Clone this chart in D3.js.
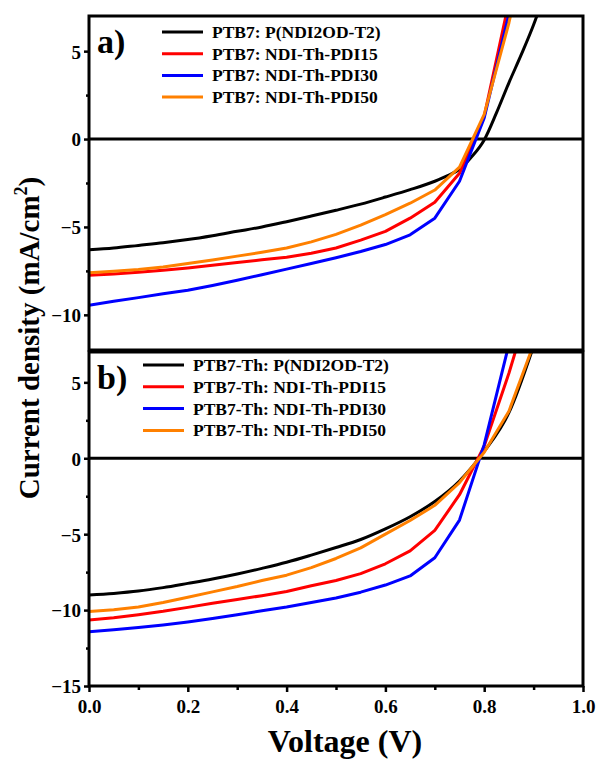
<!DOCTYPE html>
<html><head><meta charset="utf-8">
<script src="https://cdn.jsdelivr.net/npm/d3@7"></script>
<style>
html,body{margin:0;padding:0;background:#fff;}
svg text{font-family:"Liberation Serif","Times New Roman",serif;font-weight:bold;}
</style></head>
<body><svg id="chart" width="597" height="759"></svg>
<script>
// ---------- data ----------
const voltages = [0,0.05,0.1,0.15,0.2,0.25,0.3,0.35,0.4,0.45,0.5,0.55,0.6,0.65,0.7,0.75,0.8,0.85,0.9];
const blackTopV = [0,0.05,0.1,0.15,0.2,0.25,0.3,0.35,0.4,0.45,0.5,0.55,0.6,0.65,0.7,0.725,0.75,0.775,0.8,0.825,0.85,0.875,0.9,0.925];
const blackTopJ = [-6.3,-6.2,-6.05,-5.9,-5.72,-5.5,-5.25,-5.0,-4.7,-4.38,-4.05,-3.7,-3.3,-2.88,-2.4,-2.1,-1.72,-1.0,-0.05,1.5,3.2,4.8,6.5,8.5];
const redTopJ    = [-7.75,-7.68,-7.58,-7.47,-7.33,-7.18,-7.02,-6.87,-6.72,-6.5,-6.2,-5.75,-5.25,-4.5,-3.6,-1.95,1.3,7.8,14];
const blueTopJ   = [-9.45,-9.23,-9.02,-8.8,-8.6,-8.33,-8.03,-7.72,-7.4,-7.08,-6.75,-6.4,-6.0,-5.45,-4.5,-2.4,1.2,7.1,13];
const orangeTopJ = [-7.6,-7.52,-7.42,-7.28,-7.08,-6.88,-6.66,-6.44,-6.2,-5.85,-5.42,-4.9,-4.3,-3.65,-2.9,-1.6,1.4,6.6,13];

const blackBotJ  = [-9.0,-8.9,-8.75,-8.52,-8.24,-7.95,-7.62,-7.25,-6.85,-6.38,-5.88,-5.35,-4.65,-3.85,-2.85,-1.5,0.45,3.0,7.4];
const redBotJ    = [-10.65,-10.5,-10.3,-10.08,-9.82,-9.55,-9.3,-9.05,-8.78,-8.4,-8.05,-7.6,-6.95,-6.1,-4.75,-2.4,0.8,5.6,11];
const blueBotJ   = [-11.42,-11.3,-11.15,-10.98,-10.78,-10.55,-10.3,-10.05,-9.8,-9.5,-9.2,-8.82,-8.35,-7.75,-6.55,-4.07,0.9,7.5,14];
const orangeBotJ = [-10.1,-9.98,-9.8,-9.5,-9.16,-8.8,-8.45,-8.05,-7.7,-7.2,-6.6,-5.9,-5.0,-4.1,-3.1,-1.6,0.4,3.1,7.5];

const topLabels = ["PTB7: P(NDI2OD-T2)","PTB7: NDI-Th-PDI15","PTB7: NDI-Th-PDI30","PTB7: NDI-Th-PDI50"];
const botLabels = ["PTB7-Th: P(NDI2OD-T2)","PTB7-Th: NDI-Th-PDI15","PTB7-Th: NDI-Th-PDI30","PTB7-Th: NDI-Th-PDI50"];
const colors = ["#000000","#ff0000","#0000ff","#ff8000"];
const xTicks = [0,0.2,0.4,0.6,0.8,1.0];
const xMinor = [0.1,0.3,0.5,0.7,0.9];
const topYTicks = [-10,-5,0,5];
const topYMinor = [-7.5,-2.5,2.5];
const botYTicks = [-15,-10,-5,0,5];
const botYMinor = [-12.5,-7.5,-2.5,2.5];

// ---------- layout ----------
const svg = d3.select("#chart");
const L = 89, R = 583;
const x = d3.scaleLinear().domain([0,1]).range([L,R]);
const yTop = d3.scaleLinear().domain([-12,7]).range([350,16]);
const yBot = d3.scaleLinear().domain([-15,7]).range([686,352]);

function panel(id, y, series, labels, yTicks, yMinor, tag, legend, showX){
  const g = svg.append("g");
  const [y0,y1] = y.range();
  g.append("clipPath").attr("id",id).append("rect")
    .attr("x",L).attr("y",y1).attr("width",R-L).attr("height",y0-y1);
  // zero line
  g.append("line").attr("x1",L).attr("x2",R).attr("y1",y(0)).attr("y2",y(0))
    .attr("stroke","#000").attr("stroke-width",3);
  // curves
  const cg = g.append("g").attr("clip-path",`url(#${id})`);
  series.forEach((s,i)=>{
    const pts = s.v.map((v,k)=>[v,s.j[k]]);
    const line = d3.line().x(d=>x(d[0])).y(d=>y(d[1]))
      .curve(s.smooth ? d3.curveMonotoneX : d3.curveLinear);
    cg.append("path").attr("d",line(pts)).attr("fill","none")
      .attr("stroke",colors[i]).attr("stroke-width",3).attr("stroke-linejoin","round");
  });
  // y axis
  const ya = d3.axisLeft(y).tickValues(yTicks).tickSize(5).tickPadding(3).tickFormat(d3.format("d"));
  const yag = g.append("g").attr("transform",`translate(${L},0)`).call(ya);
  yag.select(".domain").remove();
  yag.selectAll(".tick line").attr("stroke-width",2.5);
  yag.selectAll("text").attr("font-size",19).attr("fill","#000").attr("dy","0.36em");
  const ym = d3.axisLeft(y).tickValues(yMinor).tickSize(3).tickFormat("");
  const ymg = g.append("g").attr("transform",`translate(${L},0)`).call(ym);
  ymg.select(".domain").remove();
  ymg.selectAll(".tick line").attr("stroke-width",2.5);
  if(showX){
    const xa = d3.axisBottom(x).tickValues(xTicks).tickSize(6).tickPadding(8).tickFormat(d3.format(".1f"));
    const xag = g.append("g").attr("transform",`translate(0,${y0})`).call(xa);
    xag.select(".domain").remove();
    xag.selectAll(".tick line").attr("stroke-width",2.5);
    xag.selectAll("text").attr("font-size",19).attr("fill","#000");
    const xm = d3.axisBottom(x).tickValues(xMinor).tickSize(4).tickFormat("");
    const xmg = g.append("g").attr("transform",`translate(0,${y0})`).call(xm);
    xmg.select(".domain").remove();
    xmg.selectAll(".tick line").attr("stroke-width",2.5);
  }
  // frame
  g.append("rect").attr("x",L).attr("y",y1).attr("width",R-L).attr("height",y0-y1)
    .attr("fill","none").attr("stroke","#000").attr("stroke-width",3);
  // panel tag
  g.append("text").attr("x",L+8).attr("y",y1+37).attr("font-size",34).text(tag);
  // legend
  labels.forEach((t,i)=>{
    const ly = legend.y + i*legend.dy;
    g.append("line").attr("x1",legend.x).attr("x2",legend.x+41).attr("y1",ly).attr("y2",ly)
      .attr("stroke",colors[i]).attr("stroke-width",3);
    g.append("text").attr("x",legend.x+50).attr("y",ly+6).attr("font-size",17.5).text(t);
  });
}

panel("clipTop", yTop, [
  {v:blackTopV, j:blackTopJ, smooth:true},
  {v:voltages, j:redTopJ},
  {v:voltages, j:blueTopJ},
  {v:voltages, j:orangeTopJ}
], topLabels, topYTicks, topYMinor, "a)", {x:162,y:32,dy:21.7}, false);

panel("clipBot", yBot, [
  {v:voltages, j:blackBotJ, smooth:true},
  {v:voltages, j:redBotJ},
  {v:voltages, j:blueBotJ},
  {v:voltages, j:orangeBotJ}
], botLabels, botYTicks, botYMinor, "b)", {x:143,y:365,dy:21.8}, true);

// axis titles
svg.append("text").attr("x",345).attr("y",752).attr("text-anchor","middle")
  .attr("font-size",32).text("Voltage (V)");
const yl = svg.append("text").attr("transform","translate(39,338) rotate(-90)")
  .attr("text-anchor","middle").attr("font-size",29);
yl.append("tspan").text("Current density (mA/cm");
yl.append("tspan").attr("font-size",18).attr("dy",-12).text("2");
yl.append("tspan").attr("dy",12).text(")");
</script></body></html>
